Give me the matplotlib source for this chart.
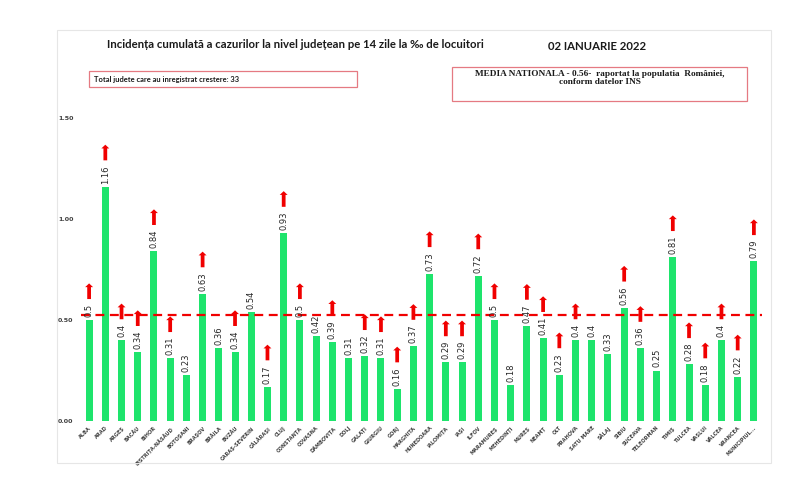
import numpy as np
import matplotlib
matplotlib.use("Agg")
import matplotlib.pyplot as plt
from matplotlib.patches import Rectangle

judete = ['ALBA', 'ARAD', 'ARGEȘ', 'BACĂU', 'BIHOR', 'BISTRIȚA-NĂSĂUD', 'BOTOȘANI',
          'BRAȘOV', 'BRĂILA', 'BUZĂU', 'CARAȘ-SEVERIN', 'CĂLĂRAȘI', 'CLUJ', 'CONSTANȚA',
          'COVASNA', 'DÂMBOVIȚA', 'DOLJ', 'GALAȚI', 'GIURGIU', 'GORJ', 'HARGHITA',
          'HUNEDOARA', 'IALOMIȚA', 'IAȘI', 'ILFOV', 'MARAMUREȘ', 'MEHEDINȚI', 'MUREȘ',
          'NEAMȚ', 'OLT', 'PRAHOVA', 'SATU MARE', 'SĂLAJ', 'SIBIU', 'SUCEAVA',
          'TELEORMAN', 'TIMIȘ', 'TULCEA', 'VASLUI', 'VÂLCEA', 'VRANCEA', 'MUNICIPIUL...']
incidenta = [0.5, 1.16, 0.4, 0.34, 0.84, 0.31, 0.23, 0.63, 0.36, 0.34, 0.54, 0.17,
             0.93, 0.5, 0.42, 0.39, 0.31, 0.32, 0.31, 0.16, 0.37, 0.73, 0.29, 0.29,
             0.72, 0.5, 0.18, 0.47, 0.41, 0.23, 0.4, 0.4, 0.33, 0.56, 0.36, 0.25,
             0.81, 0.28, 0.18, 0.4, 0.22, 0.79]
# 1 = judet cu crestere (sageata rosie)
crestere = [1, 1, 1, 1, 1, 1, 0, 1, 0, 1, 0, 1, 1, 1, 0, 1, 0, 1, 1, 1, 1,
            1, 1, 1, 1, 1, 0, 1, 1, 1, 1, 0, 0, 1, 1, 0, 1, 1, 1, 1, 1, 1]
linie_medie = 0.525
yticks = [0.0, 0.5, 1.0, 1.5]

green = '#1EE46C'
red = '#F00000'

fig = plt.figure(figsize=(8, 4.92), dpi=100)
fig.patches.append(Rectangle((57 / 800, 1 - 463 / 492), (771 - 57) / 800, (463 - 30) / 492,
                             transform=fig.transFigure, fill=False, ec='#E6E6E6', lw=0.8))

ax = fig.add_axes([81 / 800, 1 - 421 / 492, (762 - 81) / 800, (421 - 118) / 492])
x = np.arange(len(judete))
ax.bar(x, incidenta, width=0.43, color=green, zorder=2)
ax.axhline(linie_medie, color=red, lw=1.6, ls=(0, (4, 2.5)), zorder=3)

ax.set_xlim(-0.5, len(judete) - 0.5)
ax.set_ylim(0, 1.5)
ax.set_yticks(yticks)
ax.set_yticklabels(['%.2f' % v for v in yticks], fontsize=4.6, fontweight='bold', color='#404040')
ax.set_xticks(x)
ax.set_xticklabels(judete, rotation=45, ha='right', rotation_mode='anchor',
                   fontsize=3.6, fontweight='bold', color='#404040')
ax.tick_params(length=0)
ax.tick_params(axis='y', pad=5.5)
ax.tick_params(axis='x', pad=3)
for s in ax.spines.values():
    s.set_visible(False)

labels = []
for i, v in enumerate(incidenta):
    t = ax.text(i, v + 0.015, ('%.2f' % v).rstrip('0'), rotation=90, ha='center', va='bottom',
                fontsize=6, color='#262626', zorder=4)
    labels.append(t)

fig.canvas.draw()
inv = ax.transData.inverted()
for i, t in enumerate(labels):
    if not crestere[i]:
        continue
    bb = t.get_window_extent()
    top = inv.transform((bb.x0, bb.y1))[1]
    ax.annotate('', xy=(i, top + 0.115), xytext=(i, top + 0.01),
                arrowprops=dict(arrowstyle='simple,head_length=0.45,head_width=0.95,tail_width=0.45',
                                color=red, lw=0, mutation_scale=6),
                annotation_clip=False, zorder=5)

fig.text(295 / 800, 1 - 44 / 492,
         'Incidența cumulată a cazurilor la nivel județean pe 14 zile la ‰ de locuitori',
         ha='center', va='center', fontsize=8.2, fontweight='bold', family='Lato', color='#1a1a1a')
fig.text(597 / 800, 1 - 47 / 492, '02 IANUARIE 2022', ha='center', va='center',
         fontsize=8.2, fontweight='bold', family='Lato', color='#1a1a1a')

fig.patches.append(Rectangle((89 / 800, 1 - 87 / 492), (357 - 89) / 800, 16 / 492,
                             transform=fig.transFigure, fill=False, ec='#E57A82', lw=0.9))
fig.text(94 / 800, 1 - 79 / 492, 'Total judete care au inregistrat crestere: 33',
         ha='left', va='center', fontsize=5.4, fontweight='bold', family='Lato', color='#1a1a1a')

fig.patches.append(Rectangle((452 / 800, 1 - 101 / 492), (747 - 452) / 800, 34 / 492,
                             transform=fig.transFigure, fill=False, ec='#E57A82', lw=0.9))
fig.text(600 / 800, 1 - 78 / 492,
         'MEDIA NATIONALA - 0.56-  raportat la populatia  României,\nconform datelor INS',
         ha='center', va='center', fontsize=6.7, fontweight='bold', family='Liberation Serif',
         color='#1a1a1a', linespacing=1.05)

fig.savefig('out.png', dpi=100)
